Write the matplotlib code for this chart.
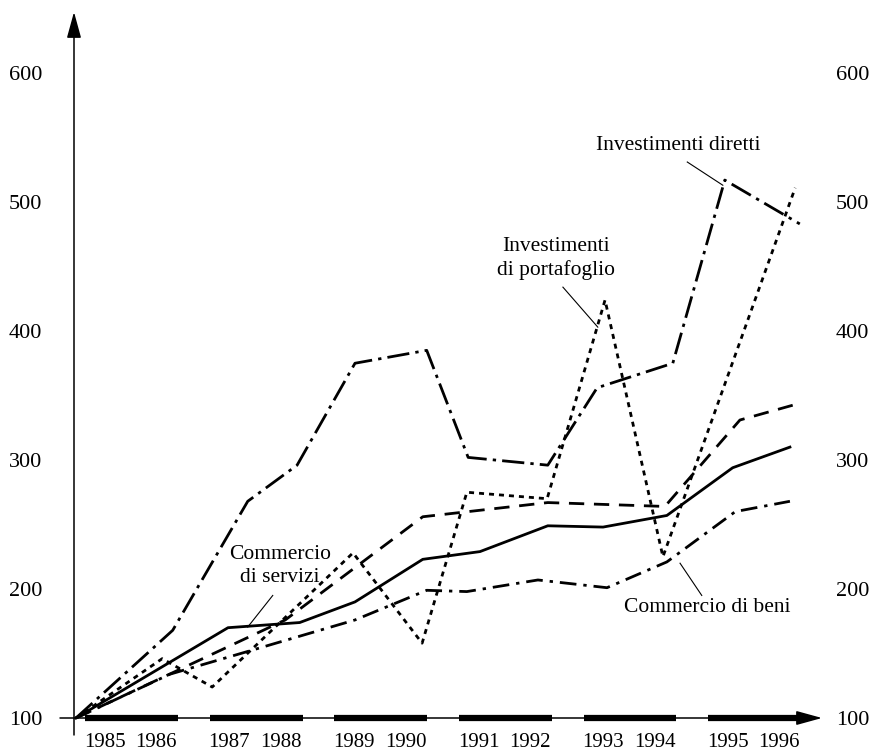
import numpy as np
import matplotlib.pyplot as plt

plt.rcParams['font.family'] = ['Liberation Serif', 'DejaVu Serif']

# valori (indice 1985 = 100), posizioni in anni
diretti_x = [1985.00, 1986.47, 1987.61, 1988.36, 1989.24, 1990.33, 1990.96, 1992.17, 1992.92, 1994.07, 1994.86, 1996.00]
diretti_y = [100, 168, 268, 296, 375, 385, 302, 296, 356, 375, 517, 483]

portafoglio_x = [1985.00, 1986.31, 1987.07, 1989.21, 1990.26, 1990.94, 1992.16, 1993.04, 1993.92, 1995.93]
portafoglio_y = [100, 146, 124, 228, 158, 275, 270, 424, 225, 511]

servizi_x = [1985.00, 1987.31, 1988.40, 1989.24, 1990.27, 1991.14, 1992.17, 1993.01, 1993.98, 1994.98, 1995.85]
servizi_y = [100, 170, 174, 190, 223, 229, 249, 248, 257, 294, 310]

tratteggio_x = [1985.00, 1988.18, 1990.27, 1992.17, 1993.95, 1995.09, 1996.00]
tratteggio_y = [100, 176, 256, 267, 264, 331, 344]

beni_x = [1985.00, 1986.43, 1987.57, 1989.24, 1990.33, 1990.94, 1992.02, 1993.07, 1993.98, 1995.02, 1995.85]
beni_y = [100, 134, 151, 176, 199, 198, 207, 201, 221, 260, 268]

anni = list(range(1985, 1997))
y_ticks = [100, 200, 300, 400, 500, 600]

# scala: 65.8 px per anno, 1.29 px per punto
px_anno = 65.8
px_punto = 1.29

fig = plt.figure(figsize=(8.71, 7.56), dpi=100)
W, H = 871, 756
ax = fig.add_axes([74 / W, (H - 718) / H, (822 - 74) / W, (718 - 12) / H])
ax.set_xlim(1985 - 2 / px_anno, 1985 + 746 / px_anno)
ax.set_ylim(100, 100 + 706 / px_punto)

lw = 2.0
ax.plot(diretti_x, diretti_y, color='black', lw=lw, dashes=(8, 2.2, 1.2, 2.2), clip_on=False)
ax.plot(portafoglio_x, portafoglio_y, color='black', lw=lw, dashes=(1.8, 1.8), clip_on=False)
ax.plot(servizi_x, servizi_y, color='black', lw=lw, clip_on=False)
ax.plot(tratteggio_x, tratteggio_y, color='black', lw=lw, dashes=(5.5, 3.5), clip_on=False)
ax.plot(beni_x, beni_y, color='black', lw=lw, dashes=(6, 2.5, 1.2, 2.5), clip_on=False)

# barre nere sull'asse, una per ogni coppia di anni
inizi = np.array([1985.137 + 1.894 * i for i in range(6)])
fini = inizi + 1.413
ax.hlines(np.full(6, 100), inizi, fini, color='black', lw=4.5, clip_on=False)
pos_anni = []
for s, e in zip(inizi, fini):
    pos_anni += [s + 0.30, e - 0.33]

# assi con frecce
for sp in ax.spines.values():
    sp.set_visible(False)
freccia = dict(arrowstyle='-|>,head_length=0.8,head_width=0.22', mutation_scale=20,
               color='black', lw=1.1, shrinkA=0, shrinkB=0)
ax.annotate('', xy=(0, 1), xytext=(0, -17 / 706), xycoords='axes fraction',
            arrowprops=freccia)
ax.annotate('', xy=(1, 0), xytext=(-14 / 748, 0), xycoords='axes fraction',
            arrowprops=freccia)

ax.set_xticks(pos_anni)
ax.set_xticklabels([str(a) for a in anni], fontsize=15)
ax.tick_params(axis='x', length=0, pad=11)
ax.set_yticks(y_ticks)
ax.set_yticklabels([str(v) for v in y_ticks], fontsize=16)
ax.tick_params(axis='y', length=0, pad=23)

# etichette a destra
for v in y_ticks:
    ax.annotate(str(v), xy=(1, v), xycoords=ax.get_yaxis_transform(),
                xytext=(10, 0), textcoords='offset points',
                ha='left', va='center_baseline', fontsize=16, annotation_clip=False)

# etichette delle serie
def etichetta(testo, xt, yt, xp, yp, xl, yl):
    ax.text(xt, yt, testo, fontsize=15.5, ha='center', va='center', linespacing=1.25)
    ax.plot([xp, xl], [yp, yl], color='black', lw=0.8, clip_on=False)

etichetta('Investimenti diretti', 1994.15, 544, 1994.29, 531, 1994.83, 513)
etichetta('Investimenti\ndi portafoglio', 1992.29, 456, 1992.40, 434, 1992.93, 403)
etichetta('Commercio\ndi servizi', 1988.10, 218, 1987.99, 195, 1987.61, 170.5)
etichetta('Commercio di beni', 1994.59, 186, 1994.51, 195, 1994.18, 220)

fig.savefig('out.png', dpi=100)
